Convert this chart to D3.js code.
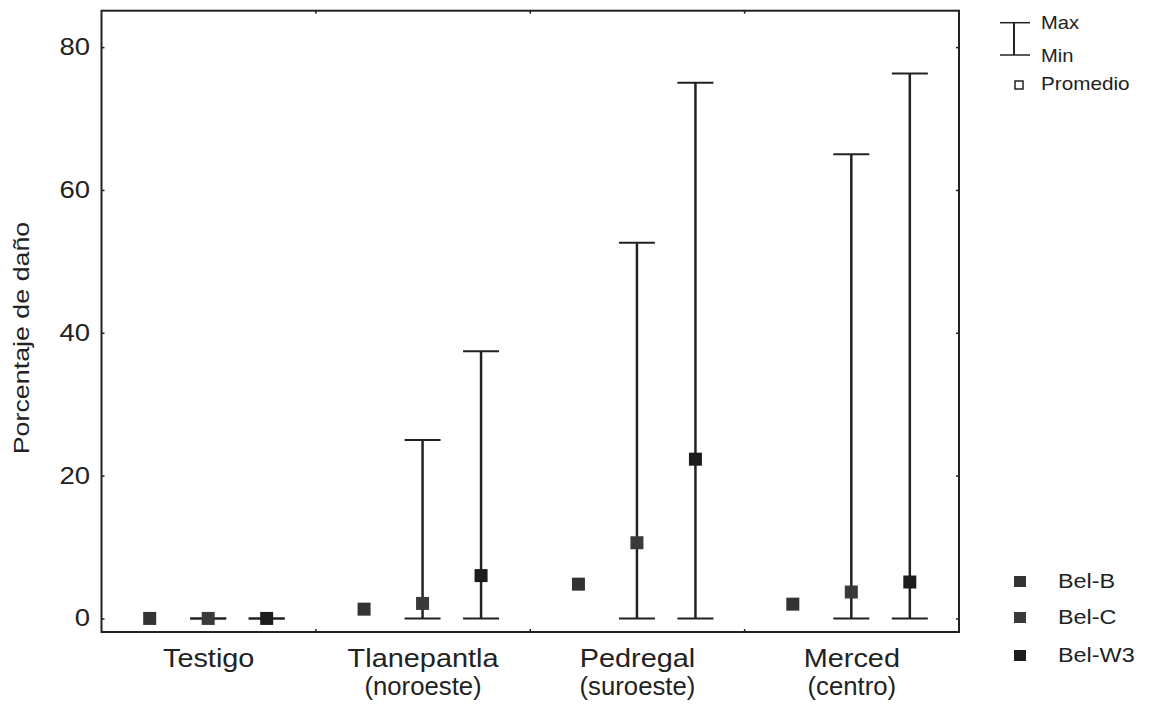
<!DOCTYPE html>
<html>
<head>
<meta charset="utf-8">
<script src="https://cdn.jsdelivr.net/npm/d3@7/dist/d3.min.js"></script>
<style>
  html, body { margin: 0; padding: 0; background: #fff; }
  svg { display: block; font-family: "Liberation Sans", Arial, sans-serif; }
</style>
</head>
<body>
<svg id="chart" width="1151" height="709"></svg>
<script>
// ---- data ----
const categories = ["Testigo", "Tlanepantla", "Pedregal", "Merced"];
const subLabels = ["", "(noroeste)", "(suroeste)", "(centro)"];
const series = ["Bel-B", "Bel-C", "Bel-W3"];
const seriesColors = ["#333333", "#3a3a3a", "#1c1c1c"];
// mean damage (%) per category, per series
const meanBelB  = [0, 1.3, 4.8, 2.0];
const meanBelC  = [0, 2.1, 10.6, 3.7];
const meanBelW3 = [0, 6.0, 22.3, 5.1];
// min / max (null = not drawn)
const minBelB  = [null, null, null, null];
const maxBelB  = [null, null, null, null];
const minBelC  = [0, 0, 0, 0];
const maxBelC  = [0, 25.0, 52.6, 65.0];
const minBelW3 = [0, 0, 0, 0];
const maxBelW3 = [0, 37.4, 75.0, 76.3];
const yTicks = [0, 20, 40, 60, 80];
const yDomain = [-1.9, 85.1];

const means = [meanBelB, meanBelC, meanBelW3];
const mins = [minBelB, minBelC, minBelW3];
const maxs = [maxBelB, maxBelC, maxBelW3];

// ---- layout ----
const L = 101.5, R = 959, T = 10.7, B = 632;
const svg = d3.select("#chart");
const ink = "#222";

// text helper with horizontal stretch
function stext(parent, x, y, str, size, sx, anchor, rot) {
  return parent.append("text")
    .attr("transform", `translate(${x},${y})${rot ? ` rotate(${rot})` : ""} scale(${sx},1)`)
    .attr("text-anchor", anchor || "start")
    .attr("font-size", size).attr("fill", "#222").text(str);
}

const x = d3.scaleBand().domain(categories).range([L, R]).padding(0);
const bw = x.bandwidth();
const xs = d3.scalePoint().domain(series).range([bw / 2 - 59, bw / 2 + 58]);
const y = d3.scaleLinear().domain(yDomain).range([B, T]);

// frame
svg.append("rect").attr("x", L).attr("y", T).attr("width", R - L).attr("height", B - T)
  .attr("fill", "none").attr("stroke", ink).attr("stroke-width", 2);

// y axis (ticks inward)
const tsx = 1.17;
const yAxis = d3.axisLeft(y).tickValues(yTicks).tickSize(-3).tickPadding(0);
const gy = svg.append("g").attr("transform", `translate(${L},0)`).call(yAxis);
gy.select(".domain").remove();
gy.selectAll(".tick line").attr("stroke", ink).attr("stroke-width", 1.5);
gy.selectAll(".tick text").attr("font-size", 23.5).attr("fill", "#222")
  .attr("font-family", "Liberation Sans, Arial, sans-serif")
  .attr("x", -11.5 / tsx).attr("transform", `scale(${tsx},1)`);

// right axis small ticks
const gyr = svg.append("g").attr("transform", `translate(${R},0)`)
  .call(d3.axisRight(y).tickValues(yTicks).tickSize(-3).tickFormat(""));
gyr.select(".domain").remove();
gyr.selectAll(".tick line").attr("stroke", ink).attr("stroke-width", 1.5);

// bottom/top boundary ticks
const bounds = categories.slice(1).map(c => x(c));
svg.selectAll(".btick").data(bounds).enter().append("line")
  .attr("x1", d => d).attr("x2", d => d).attr("y1", B).attr("y2", B - 3)
  .attr("stroke", ink).attr("stroke-width", 1.5);
svg.selectAll(".ttick").data(bounds).enter().append("line")
  .attr("x1", d => d).attr("x2", d => d).attr("y1", T).attr("y2", T + 3)
  .attr("stroke", ink).attr("stroke-width", 1.5);

// category labels
const gx = svg.append("g");
categories.forEach((c, i) => {
  const cx = x(c) + bw / 2;
  stext(gx, cx, 667, c, 26.5, 1.09, "middle");
  if (subLabels[i]) stext(gx, cx, 695, subLabels[i], 25, 1.03, "middle");
});

// y title
stext(svg, 29, 338, "Porcentaje de daño", 22, 1.22, "middle", -90);

// error bars + means
const capW = 18;
series.forEach((s, si) => {
  const g = svg.append("g");
  categories.forEach((c, ci) => {
    const cx = x(c) + xs(s);
    const mn = mins[si][ci], mx = maxs[si][ci];
    if (mn !== null && mx !== null) {
      g.append("line").attr("x1", cx).attr("x2", cx).attr("y1", y(mn)).attr("y2", y(mx))
        .attr("stroke", ink).attr("stroke-width", 2.5);
      [mn, mx].forEach(v => {
        g.append("line").attr("x1", cx - capW).attr("x2", cx + capW)
          .attr("y1", y(v)).attr("y2", y(v)).attr("stroke", ink).attr("stroke-width", 2);
      });
    }
    const m = means[si][ci];
    g.append("rect").attr("x", cx - 6.5).attr("y", y(m) - 6.5).attr("width", 13).attr("height", 13)
      .attr("fill", seriesColors[si]);
  });
});

// top-right legend (Max/Min/Promedio)
const lg = svg.append("g");
lg.append("line").attr("x1", 1014).attr("x2", 1014).attr("y1", 22.7).attr("y2", 55).attr("stroke", ink).attr("stroke-width", 2);
lg.append("line").attr("x1", 1000).attr("x2", 1030).attr("y1", 22.7).attr("y2", 22.7).attr("stroke", ink).attr("stroke-width", 1.5);
lg.append("line").attr("x1", 1000).attr("x2", 1030).attr("y1", 55).attr("y2", 55).attr("stroke", ink).attr("stroke-width", 1.5);
stext(lg, 1041, 29, "Max", 18, 1.12);
stext(lg, 1041, 61.5, "Min", 18, 1.12);
lg.append("rect").attr("x", 1015).attr("y", 81).attr("width", 8).attr("height", 8)
  .attr("fill", "none").attr("stroke", ink).attr("stroke-width", 1.5);
stext(lg, 1041, 90, "Promedio", 18, 1.15);

// bottom-right legend (series)
const sy = [582, 618, 656];
series.forEach((s, i) => {
  lg.append("rect").attr("x", 1014).attr("y", sy[i] - 6).attr("width", 12).attr("height", 11)
    .attr("fill", seriesColors[i]);
  stext(lg, 1058, sy[i] + 6, s, 19.5, 1.2);
});
</script>
</body>
</html>
